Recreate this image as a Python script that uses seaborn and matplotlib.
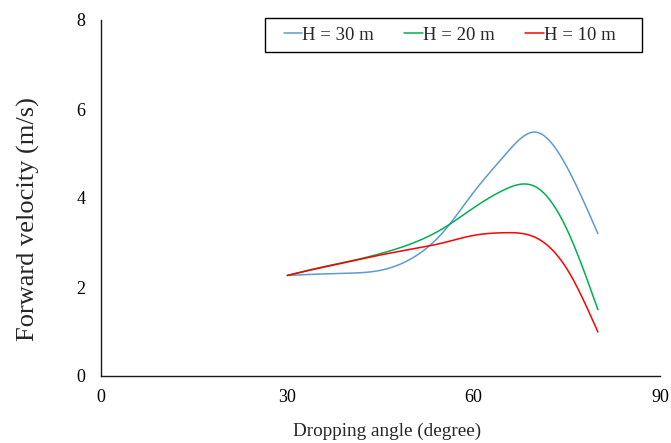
import numpy as np
import pandas as pd
import matplotlib
matplotlib.use("Agg")
import matplotlib.pyplot as plt
from matplotlib.patches import Rectangle
import seaborn as sns

angles = [30, 35, 40, 45, 50, 55, 60, 65, 70, 75, 80]
v_h30 = [2.26, 2.29, 2.31, 2.375, 2.64, 3.22, 4.13, 4.96, 5.48, 4.70, 3.20]
v_h20 = [2.26, 2.43, 2.58, 2.75, 2.975, 3.31, 3.78, 4.19, 4.25, 3.30, 1.49]
v_h10 = [2.26, 2.42, 2.57, 2.72, 2.85, 2.99, 3.16, 3.22, 3.11, 2.41, 0.99]
labels = ["H = 30 m", "H = 20 m", "H = 10 m"]
colors = ["#5B9BD5", "#00B050", "#FF0000"]

def smooth(x, y, n=400):
    # natural cubic spline through the read points (smoothed line rendering)
    x = np.asarray(x, float); y = np.asarray(y, float)
    k = len(x)
    h = np.diff(x)
    A = np.zeros((k, k)); r = np.zeros(k)
    A[0, 0] = A[-1, -1] = 1.0
    for i in range(1, k - 1):
        A[i, i - 1] = h[i - 1]
        A[i, i] = 2 * (h[i - 1] + h[i])
        A[i, i + 1] = h[i]
        r[i] = 6 * ((y[i + 1] - y[i]) / h[i] - (y[i] - y[i - 1]) / h[i - 1])
    M = np.linalg.solve(A, r)
    xs = np.linspace(x[0], x[-1], n)
    idx = np.clip(np.searchsorted(x, xs) - 1, 0, k - 2)
    x0, x1 = x[idx], x[idx + 1]
    hh = x1 - x0
    a = (x1 - xs) / hh; b = (xs - x0) / hh
    ys = a * y[idx] + b * y[idx + 1] + ((a ** 3 - a) * M[idx] + (b ** 3 - b) * M[idx + 1]) * hh ** 2 / 6
    return xs, ys

frames = []
for lab, vals in zip(labels, [v_h30, v_h20, v_h10]):
    sx, sy = smooth(angles, vals)
    frames.append(pd.DataFrame({"angle": sx, "v": sy, "series": lab}))
df = pd.concat(frames, ignore_index=True)

sns.set_theme(style="white")
plt.rcParams["font.family"] = ["Liberation Serif", "DejaVu Serif"]

W, H = 671, 443
fig = plt.figure(figsize=(W / 100, H / 100), dpi=100)
ax = fig.add_axes([101 / W, (H - 376) / H, (660 - 101) / W, (376 - 20) / H])
sns.lineplot(data=df, x="angle", y="v", hue="series", hue_order=labels,
             palette=colors, sort=False, estimator=None, linewidth=1.1, ax=ax)

ax.set_xlim(0, 90)
ax.set_ylim(0, 8)
ax.set_xticks([0, 30, 60, 90])
ax.set_yticks([0, 2, 4, 6, 8])
ax.tick_params(axis="both", labelsize=13, length=0, colors="black")
ax.tick_params(axis="x", pad=9)
ax.tick_params(axis="y", pad=11)
for s in ["top", "right"]:
    ax.spines[s].set_visible(False)
for s in ["left", "bottom"]:
    ax.spines[s].set_color("#1a1a1a")
    ax.spines[s].set_linewidth(1.0)
ax.set_xlabel("Dropping angle (degree)", fontsize=13.8)
ax.set_ylabel("Forward velocity (m/s)", fontsize=19)
ax.xaxis.set_label_coords(0.5125, -0.13)
ax.yaxis.set_label_coords(-0.11, 0.44)

# legend (frameless) with Excel-style rectangular box
cx = ((265 + 642) / 2 - 4) / W
cy = 1 - 35 / H
leg = fig.legend(*ax.get_legend_handles_labels(), loc="center", bbox_to_anchor=(cx, cy),
                 ncol=3, frameon=False, fontsize=13.5, handlelength=1.0,
                 handletextpad=0.0, columnspacing=1.6)
ax.get_legend().remove()
fig.patches.append(Rectangle((265 / W, 1 - 52 / H), (642 - 265) / W, 34 / H,
                             transform=fig.transFigure, fill=False,
                             edgecolor="black", linewidth=1.0))

fig.savefig("out.png", dpi=100)
